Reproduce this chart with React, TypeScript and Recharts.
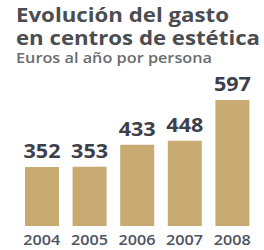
import React from "react";
import { BarChart, Bar, XAxis, YAxis, LabelList } from "recharts";

const years = ["2004", "2005", "2006", "2007", "2008"];
const gasto = [352, 353, 433, 448, 597];

const data = years.map((year, i) => ({ year, value: gasto[i] }));

const FONT = "'Open Sans', sans-serif";

// the original print graphic is set in a wide type, so text is stretched to fit
const YearTick = (props: any) => {
  const { x, y, payload } = props;
  return (
    <text
      x={x}
      y={y + 17}
      textAnchor="middle"
      fontFamily={FONT}
      fontSize={15}
      fontWeight={600}
      fill="#4d5462"
      textLength={37}
      lengthAdjust="spacingAndGlyphs"
    >
      {payload.value}
    </text>
  );
};

const ValueLabel = (props: any) => {
  const { x, y, width, value } = props;
  return (
    <text
      x={x + width / 2}
      y={y - 9}
      textAnchor="middle"
      fontFamily={FONT}
      fontSize={19}
      fontWeight={700}
      fill="#3c404a"
      textLength={37}
      lengthAdjust="spacingAndGlyphs"
    >
      {value}
    </text>
  );
};

export default function App() {
  return (
    <div style={{ position: "absolute", left: 0, top: 0, width: 264, height: 250, background: "#fff" }}>
      <svg width={264} height={70} style={{ position: "absolute", left: 0, top: 0 }}>
        <text x={16} y={22} fontFamily={FONT} fontWeight={700} fontSize={19} fill="#4b4d51" textLength={213} lengthAdjust="spacingAndGlyphs">
          Evolución del gasto
        </text>
        <text x={16} y={45} fontFamily={FONT} fontWeight={700} fontSize={19} fill="#4b4d51" textLength={244} lengthAdjust="spacingAndGlyphs">
          en centros de estética
        </text>
        <text x={16} y={63} fontFamily={FONT} fontWeight={600} fontSize={14} fill="#6a6c6e" textLength={196} lengthAdjust="spacingAndGlyphs">
          Euros al año por persona
        </text>
      </svg>
      <div style={{ position: "absolute", left: 0, top: 0 }}>
        <BarChart
          width={264}
          height={250}
          data={data}
          margin={{ top: 100, right: 8, bottom: 0, left: 18 }}
          barCategoryGap={7}
        >
          <XAxis
            dataKey="year"
            height={24}
            tickLine={false}
            axisLine={false}
            tickSize={0}
            interval={0}
            tick={<YearTick />}
          />
          <YAxis hide domain={[136, 597]} />
          <Bar dataKey="value" fill="#c8aa73" isAnimationActive={false}>
            <LabelList dataKey="value" content={<ValueLabel />} />
          </Bar>
        </BarChart>
      </div>
    </div>
  );
}
